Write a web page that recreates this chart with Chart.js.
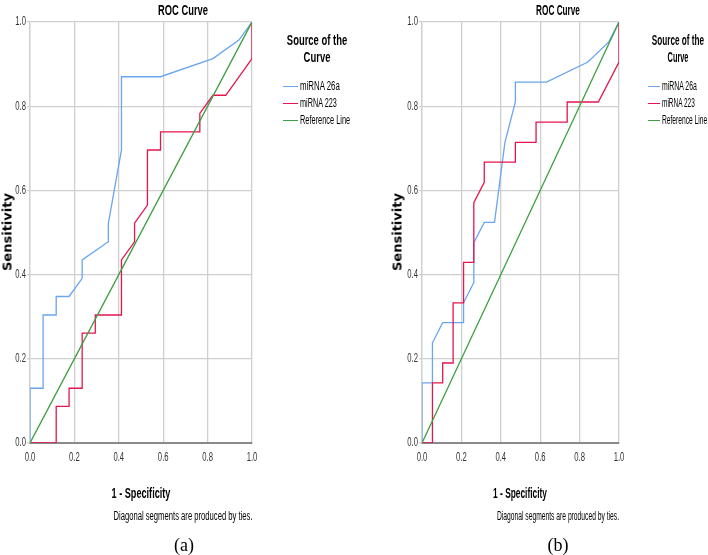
<!DOCTYPE html>
<html>
<head>
<meta charset="utf-8">
<script src="https://cdn.jsdelivr.net/npm/chart.js"></script>
<style>
  body { margin: 0; background: #fff; }
  #wrap { position: relative; width: 708px; height: 555px; overflow: hidden; background: #fff; }
  canvas { position: absolute; top: 0; }
  .txt { position: absolute; white-space: nowrap; color: #000; line-height: 1;
         font-family: "Liberation Sans", Arial, sans-serif; }
  .b { font-weight: bold; }
  .ylab { font-family: "DejaVu Sans", sans-serif; font-weight: bold; font-size: 13px;
          transform: translate(-50%, -50%) rotate(-90deg); }
  .cap { font-family: "Liberation Serif", serif; font-size: 18px; }
</style>
</head>
<body>
<div id="wrap">
  <canvas id="chartA" width="354" height="555" style="left:0"></canvas>
  <canvas id="chartB" width="354" height="555" style="left:354px"></canvas>
</div>
<script>
// series names and colours
const seriesNames = ['miRNA 26a', 'miRNA 223', 'Reference Line'];
const seriesColors = ['#6aa5ef', '#e5164e', '#3f9e41'];
const tickLabels = ['0.0', '0.2', '0.4', '0.6', '0.8', '1.0'];

// panel (a)
const a26X = [0, 0, 0.059, 0.059, 0.118, 0.118, 0.176, 0.235, 0.235, 0.353, 0.353, 0.412, 0.412, 0.588, 0.824, 0.941, 1];
const a26Y = [0, 0.130, 0.130, 0.304, 0.304, 0.348, 0.348, 0.391, 0.435, 0.478, 0.522, 0.696, 0.870, 0.870, 0.913, 0.957, 1];
const a223X = [0, 0.118, 0.118, 0.176, 0.176, 0.235, 0.235, 0.294, 0.294, 0.412, 0.412, 0.471, 0.471, 0.529, 0.529, 0.588, 0.588, 0.765, 0.765, 0.824, 0.882, 1, 1];
const a223Y = [0, 0, 0.087, 0.087, 0.130, 0.130, 0.261, 0.261, 0.304, 0.304, 0.435, 0.478, 0.522, 0.565, 0.696, 0.696, 0.739, 0.739, 0.783, 0.826, 0.826, 0.913, 1];

// panel (b)
const b26X = [0, 0, 0.053, 0.053, 0.105, 0.211, 0.211, 0.263, 0.263, 0.316, 0.368, 0.421, 0.474, 0.474, 0.632, 0.842, 0.947, 1];
const b26Y = [0, 0.143, 0.143, 0.238, 0.286, 0.286, 0.333, 0.381, 0.476, 0.524, 0.524, 0.714, 0.810, 0.857, 0.857, 0.905, 0.952, 1];
const b223X = [0, 0.053, 0.053, 0.105, 0.105, 0.158, 0.158, 0.211, 0.211, 0.263, 0.263, 0.316, 0.316, 0.474, 0.474, 0.579, 0.579, 0.737, 0.737, 0.895, 1, 1];
const b223Y = [0, 0, 0.143, 0.143, 0.190, 0.190, 0.333, 0.333, 0.429, 0.429, 0.571, 0.619, 0.667, 0.667, 0.714, 0.714, 0.762, 0.762, 0.810, 0.810, 0.905, 1];

const refX = [0, 1];
const refY = [0, 1];

function pts(xs, ys) {
    return xs.map((x, i) => ({ x: x, y: ys[i] }));
}

// tick labels in a squeezed face, placed with the chart's own scales
const narrowTicks = {
    id: 'narrowTicks',
    afterDraw(chart) {
        const ctx = chart.ctx;
        const xs = chart.scales.x, ys = chart.scales.y;
        const area = chart.chartArea;
        ctx.save();
        ctx.fillStyle = '#333';
        ctx.font = '12px "Liberation Sans", Arial, sans-serif';
        ctx.textBaseline = 'middle';
        xs.ticks.forEach((t, i) => {
            ctx.save();
            ctx.translate(xs.getPixelForValue(t.value), area.bottom + 15);
            ctx.scale(0.64, 1);
            ctx.textAlign = 'center';
            ctx.fillText(tickLabels[i], 0, 0);
            ctx.restore();
        });
        ys.ticks.forEach((t, i) => {
            ctx.save();
            ctx.translate(area.left - 4, ys.getPixelForValue(t.value));
            ctx.scale(0.64, 1);
            ctx.textAlign = 'right';
            ctx.fillText(tickLabels[i], 0, 0);
            ctx.restore();
        });
        ctx.restore();
    }
};

function makeChart(id, plotLeft, plotRight, curves) {
    const ctx = document.getElementById(id).getContext('2d');
    const datasets = curves.map((c, i) => ({
        label: seriesNames[i],
        data: pts(c[0], c[1]),
        borderColor: seriesColors[i],
        borderWidth: 1.3,
        pointRadius: 0,
        tension: 0,
        fill: false
    }));
    // reference line drawn first so the curves sit over it
    datasets.reverse();
    return new Chart(ctx, {
        type: 'line',
        data: { datasets: datasets },
        plugins: [narrowTicks],
        options: {
            responsive: false,
            animation: false,
            layout: { padding: { left: 0, top: 22, right: 354 - plotRight, bottom: 0 } },
            plugins: { legend: { display: false }, tooltip: { enabled: false } },
            scales: {
                x: {
                    type: 'linear', min: 0, max: 1,
                    afterFit: s => { s.height = 555 - 443; },
                    grid: { color: '#cfcfcf', lineWidth: 1.3, tickLength: 0 },
                    border: { color: '#8a8a8a', width: 2 },
                    ticks: { stepSize: 0.2, display: false }
                },
                y: {
                    min: 0, max: 1,
                    afterFit: s => { s.width = plotLeft; },
                    grid: { color: '#cfcfcf', lineWidth: 1.3, tickLength: 3 },
                    border: { color: '#cfcfcf', width: 1.3 },
                    ticks: { stepSize: 0.2, display: false }
                }
            }
        }
    });
}

makeChart('chartA', 30, 252, [[a26X, a26Y], [a223X, a223Y], [refX, refY]]);
makeChart('chartB', 68, 265, [[b26X, b26Y], [b223X, b223Y], [refX, refY]]);

// text around the plots, squeezed horizontally to the width seen in the figure
const wrap = document.getElementById('wrap');
function addText(text, x, y, size, bold, width, align) {
    const d = document.createElement('div');
    d.className = 'txt' + (bold ? ' b' : '');
    d.style.fontSize = size + 'px';
    d.style.left = x + 'px';
    d.style.top = y + 'px';
    d.textContent = text;
    wrap.appendChild(d);
    const k = width / d.offsetWidth;
    if (align === 'left') {
        d.style.transformOrigin = '0 50%';
        d.style.transform = 'translateY(-50%) scaleX(' + k + ')';
    } else {
        d.style.transform = 'translate(-50%, -50%) scaleX(' + k + ')';
    }
    return d;
}

function addLegend(cx, lineX, textX, titleW, itemW) {
    addText('Source of the', cx, 40, 14, true, titleW[0]);
    addText('Curve', cx, 57, 14, true, titleW[1]);
    [86, 103, 120].forEach((y, i) => {
        const sw = document.createElement('div');
        sw.style.cssText = 'position:absolute;left:' + lineX + 'px;top:' + (y - 0.5) +
            'px;width:' + (textX - lineX - 2) + 'px;height:1.5px;background:' + seriesColors[i];
        wrap.appendChild(sw);
        addText(seriesNames[i], textX, y, 12, false, itemW[i], 'left');
    });
}

function addPlain(cls, text, x, y) {
    const d = document.createElement('div');
    d.className = 'txt ' + cls;
    d.style.left = x + 'px';
    d.style.top = y + 'px';
    if (cls === 'cap') d.style.transform = 'translate(-50%, -50%)';
    d.textContent = text;
    wrap.appendChild(d);
}

// panel (a)
addText('ROC Curve', 183, 10, 14, true, 50);
addPlain('ylab', 'Sensitivity', 7, 232);
addText('1 - Specificity', 141, 492, 15, true, 59);
addText('Diagonal segments are produced by ties.', 182.5, 516, 12, false, 139);
addPlain('cap', '(a)', 184, 545);
addLegend(317, 283, 300, [60, 27], [40, 37, 50]);

// panel (b)
addText('ROC Curve', 558, 10, 14, true, 44);
addPlain('ylab', 'Sensitivity', 397, 232);
addText('1 - Specificity', 520, 492, 15, true, 54);
addText('Diagonal segments are produced by ties.', 558, 516, 12, false, 122);
addPlain('cap', '(b)', 558, 545);
addLegend(678, 648, 662, [52, 21], [35, 33, 45]);
</script>
</body>
</html>
